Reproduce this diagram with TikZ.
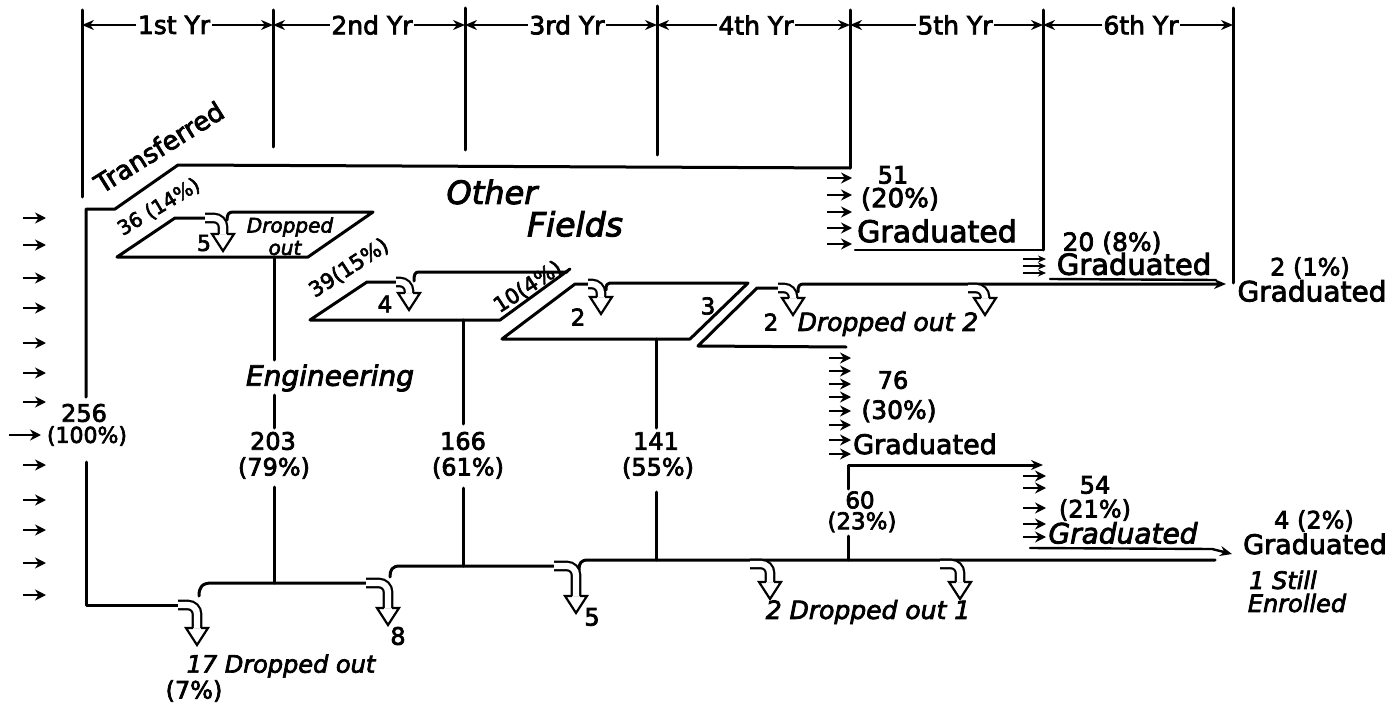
\documentclass[tikz,border=0pt]{standalone}
\usepackage{fontspec}
\setmainfont{DejaVu Sans}[FakeBold=3]
\usetikzlibrary{arrows.meta}
\newcommand\myfs[1]{\fontsize{#1}{#1}\selectfont}
\newcommand\hollowarr[4]{%
  \draw[hshaft] (#1,#2) -| (#3,#4);
  \draw[hhead] (#3-4.2,#4) -- (#3-11,#4) -- (#3,#4+17) -- (#3+11,#4) -- (#3+4.2,#4);}
\begin{document}
\begin{tikzpicture}[x=1pt,y=-1pt,
  ln/.style={line width=3pt,line cap=round,line join=round},
  tln/.style={line width=2.4pt,line cap=round},
  sarr/.style={line width=2.6pt,-{Stealth[length=11pt,width=11pt]}},
  sarrs/.style={line width=1.8pt,-{Stealth[length=8pt,width=7pt]}},
  tarr/.style={line width=2.2pt,{Stealth[length=12pt,width=10pt]}-{Stealth[length=12pt,width=10pt]}},
  bigtip/.style={-{Stealth[length=12pt,width=10pt]}},
  hshaft/.style={line width=2.2pt,double=white,double distance=6.2pt,rounded corners=9pt},
  hhead/.style={line width=2.2pt,line join=miter},
  lab/.style={inner sep=0.5pt},
  wlab/.style={inner sep=1.5pt,fill=white},
  yr/.style={wlab,font=\myfs{25}},
  num/.style={lab,font=\myfs{24}},
  grad/.style={lab,font=\myfs{28}},
]
\fill[white] (0,0) rectangle (1392,706);
\useasboundingbox (0,0) rectangle (1392,706);

% ---- timeline
\foreach \a/\b in {82/273,273/465,465/657,657/850,850/1043,1043/1233}
  \draw[tarr] (\a,25) -- (\b,25);
\draw[ln] (82,10) -- (82,197);
\draw[ln] (273,10) -- (273,147);
\draw[ln] (465,8) -- (465,150);
\draw[ln] (657,6) -- (657,155);
\draw[ln] (850,10) -- (850,168);
\draw[ln] (1043,10) -- (1043,250);
\draw[ln] (1233,8) -- (1233,283);
\node[yr] (y1) at (174,25) {1st Yr};
\node[yr] (y2) at (372,25) {2nd Yr};
\node[yr] (y3) at (567,25) {3rd Yr};
\node[yr] (y4) at (756,25) {4th Yr};
\node[yr] (y5) at (955,25) {5th Yr};
\node[yr] (y6) at (1141,25) {6th Yr};

% ---- transferred / other fields path and 256 line
\draw[ln] (86,397) -- (86,209) -- (115,209) -- (178,165) -- (850,168);
\draw[ln] (86,462) -- (86,605) -- (178,605);

% ---- parallelogram 1
\draw[ln] (205,218) -- (175,218) -- (117,257) -- (308,257) -- (373,212) -- (233,212)
  .. controls (229,212) and (227,214) .. (227,220);
\draw[ln] (274,257) -- (274,360);
\draw[ln] (274,395) -- (274,428);
\draw[ln] (274,487) -- (274,583);
\draw[ln] (366,583) -- (212,583) .. controls (202,583) and (199,587) .. (199,596);

% ---- parallelogram 2
\draw[ln] (396,282) -- (367,282) -- (310,320) -- (500,320) -- (570,269);
\draw[ln] (567,272) -- (419,272) .. controls (415,272) and (414,274) .. (414,281);
\draw[ln] (463,320) -- (463,424);
\draw[ln] (463,488) -- (463,566);
\draw[ln] (554,566) -- (400,566) .. controls (392,566) and (390,570) .. (390,577);

% ---- parallelogram 3
\draw[ln] (588,284) -- (575,284) -- (502,339) -- (690,339) -- (748,283) -- (610,283)
  .. controls (607,283) and (606,285) .. (606,290);
\draw[ln] (656,339) -- (656,428);
\draw[ln] (656,492) -- (656,560);
\draw[ln] (1215,560) -- (588,560) .. controls (581,560) and (579,563) .. (579,570);

% ---- parallelogram 4 and later years
\draw[ln] (778,288) -- (757,288) -- (698,346) -- (846,347);
\draw[ln,bigtip] (798,292) .. controls (798,286) and (799,284) .. (804,284) -- (1226,284);
\draw[tln] (1050,279) -- (1216,280);
\draw[tln] (855,250) -- (1043,250);
\draw[ln,bigtip] (848,489) -- (848,465) -- (1043,465);
\draw[ln] (848,536) -- (848,560);
\draw[tln,bigtip] (1030,548) -- (1212,549) -- (1232,554);

% ---- hollow arrows
\hollowarr{178}{605}{197}{628}
\hollowarr{366}{583}{388}{608}
\hollowarr{554}{566}{576}{596}
\hollowarr{750}{564}{770}{582}
\hollowarr{940}{564}{960}{582}
\hollowarr{205}{218}{223}{234}
\hollowarr{396}{282}{409}{293}
\hollowarr{588}{284}{601}{297}
\hollowarr{778}{288}{793}{298}
\hollowarr{968}{288}{985}{298}

% ---- small arrows
\foreach \y in {218,245,278,308,343,373,402,465,500,530,563,595}
  \draw[sarr] (23,\y) -- (46,\y);
\draw[sarr] (9,435) -- (41,435);
\foreach \y in {178,195,212,228,244} \draw[sarr] (827,\y) -- (852,\y);
\foreach \y in {259,266,273} \draw[sarrs] (1023,\y) -- (1046,\y);
\foreach \y in {358,371,384,397,411,425,440,454} \draw[sarr] (829,\y) -- (851,\y);
\foreach \y in {476,488,508,524,537} \draw[sarr] (1023,\y) -- (1046,\y);

% ---- labels
\node[lab,font=\myfs{26},rotate=32] (tr) at (159,147) {Transferred};
\node[lab,font=\myfs{20},rotate=31] (p36) at (159,207) {36 (14\%)};
\node[lab,font=\myfs{21},rotate=33] (p39) at (349,268) {39(15\%)};
\node[lab,font=\myfs{21},rotate=33] (p10) at (528,287) {10(4\%)};
\node[lab,font=\myfs{22}] (d5) at (204,243) {5};
\node[lab,font=\myfs{20}\itshape] (dr1) at (290,227) {Dropped};
\node[lab,font=\myfs{20}\itshape] (dr1b) at (285,248) {out};
\node[lab,font=\myfs{32}\itshape] (of1) at (492,192) {Other};
\node[lab,font=\myfs{33}\itshape] (of2) at (575,224) {Fields};
\node[lab,font=\myfs{23}] (d4) at (385,304) {4};
\node[lab,font=\myfs{23}] (d2a) at (578,317) {2};
\node[lab,font=\myfs{23}] (d3) at (708,306) {3};
\node[lab,font=\myfs{23}] (d2b) at (771,322) {2};
\node[lab,font=\myfs{25}\itshape] (do2) at (888,324) {Dropped out 2};
\node[lab,font=\myfs{28}\itshape] (eng) at (330,378) {Engineering};
\node[num] (n256) at (84,413) {256};
\node[lab,font=\myfs{22}] (n256p) at (87,436) {(100\%)};
\node[num] (n203) at (273,441) {203};
\node[num] (n203p) at (274,468) {(79\%)};
\node[num] (n166) at (463,441) {166};
\node[num] (n166p) at (468,468) {(61\%)};
\node[num] (n141) at (656,441) {141};
\node[num] (n141p) at (658,468) {(55\%)};
\node[lab,font=\myfs{23}] (n60) at (860,500) {60};
\node[lab,font=\myfs{23}] (n60p) at (862,522) {(23\%)};
\node[num] (n51) at (893,175) {51};
\node[lab,font=\myfs{26}] (n51p) at (900,199) {(20\%)};
\node[lab,font=\myfs{30}] (g51) at (937,231) {Graduated};
\node[lab,font=\myfs{25}] (n20) at (1112,243) {20 (8\%)};
\node[lab,font=\myfs{29}] (g20) at (1134,264) {Graduated};
\node[num] (n2) at (1310,268) {2 (1\%)};
\node[grad] (g2) at (1312,291) {Graduated};
\node[num] (n76) at (893,380) {76};
\node[lab,font=\myfs{25}] (n76p) at (899,411) {(30\%)};
\node[lab,font=\myfs{27}] (g76) at (925,444) {Graduated};
\node[num] (n54) at (1095,485) {54};
\node[num] (n54p) at (1095,510) {(21\%)};
\node[lab,font=\myfs{28}\itshape] (g54) at (1123,533) {Graduated};
\node[num] (n4) at (1314,521) {4 (2\%)};
\node[lab,font=\myfs{27}] (g4) at (1315,544) {Graduated};
\node[lab,font=\myfs{24}\itshape] (st1) at (1283,580) {1 Still};
\node[lab,font=\myfs{24}\itshape] (st2) at (1297,603) {Enrolled};
\node[lab,font=\myfs{24}\itshape] (d17) at (281,666) {17 Dropped out};
\node[num] (d17p) at (194,691) {(7\%)};
\node[num] (d8) at (398,636) {8};
\node[num] (d5b) at (592,617) {5};
\node[lab,font=\myfs{25}\itshape] (d21) at (868,612) {2 Dropped out 1};
\end{tikzpicture}
\end{document}
